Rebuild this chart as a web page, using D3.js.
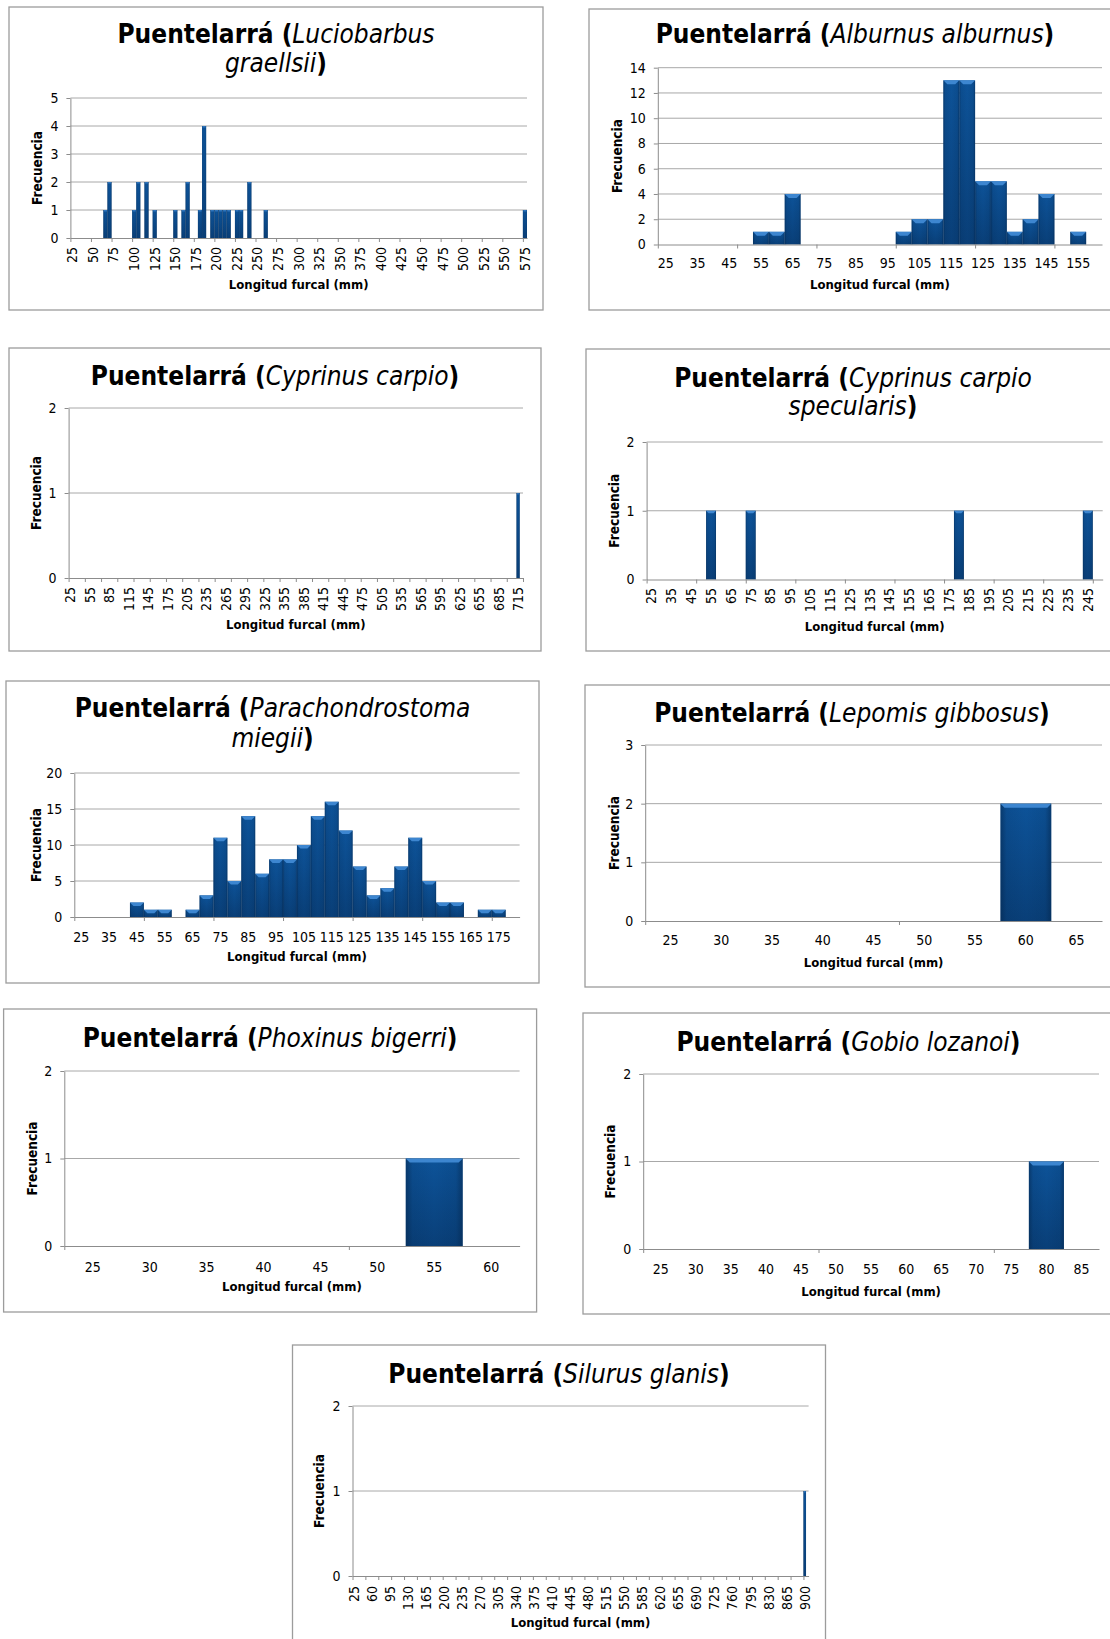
<!DOCTYPE html>
<html>
<head>
<meta charset="utf-8">
<script src="https://cdn.jsdelivr.net/npm/d3@7"></script>
<style>
  body { margin: 0; background: #fff; }
  svg { display: block; font-family: "DejaVu Sans Condensed", "DejaVu Sans", sans-serif; }
  .box { fill: #fff; stroke: #9c9c9c; stroke-width: 1.3; }
  .title { font-size: 26px; fill: #000; }
  .title .sp { font-style: oblique; font-weight: normal; }
  .title .nm { font-weight: bold; }
  .grid { stroke: #a8a8a8; stroke-width: 1; }
  .axis path, .axis line { stroke: #8c8c8c; stroke-width: 1; }
  .axis text { font-size: 14px; fill: #000; font-family: "DejaVu Sans Condensed", "DejaVu Sans", sans-serif; }
  .axis-label { font-size: 13px; font-weight: bold; fill: #000; text-anchor: middle; }
  .axis-label.yl { font-size: 13.5px; }
</style>
</head>
<body>
<script>
const width = 1110, height = 1639;
const binStep = 5;

// Luciobarbus graellsii
const graellsiiRange = [25, 575];
const graellsiiLengths = [65, 70, 100, 105, 115, 125, 150, 160, 165, 180, 185, 195, 200, 205, 210, 215, 225, 230, 240, 260, 575];
const graellsiiCounts  = [1, 2, 1, 2, 2, 1, 1, 1, 2, 1, 4, 1, 1, 1, 1, 1, 1, 1, 2, 1, 1];
const graellsiiYTicks = [0, 1, 2, 3, 4, 5];

// Alburnus alburnus
const alburnusRange = [25, 160];
const alburnusLengths = [55, 60, 65, 100, 105, 110, 115, 120, 125, 130, 135, 140, 145, 155];
const alburnusCounts  = [1, 1, 4, 1, 2, 2, 13, 13, 5, 5, 1, 2, 4, 1];
const alburnusYTicks = [0, 2, 4, 6, 8, 10, 12, 14];

// Cyprinus carpio
const carpioRange = [25, 720];
const carpioLengths = [715];
const carpioCounts  = [1];
const carpioYTicks = [0, 1, 2];

// Cyprinus carpio specularis
const specularisRange = [25, 250];
const specularisLengths = [55, 75, 180, 245];
const specularisCounts  = [1, 1, 1, 1];
const specularisYTicks = [0, 1, 2];

// Parachondrostoma miegii
const miegiiRange = [25, 180];
const miegiiLengths = [45, 50, 55, 65, 70, 75, 80, 85, 90, 95, 100, 105, 110, 115, 120, 125, 130, 135, 140, 145, 150, 155, 160, 170, 175];
const miegiiCounts  = [2, 1, 1, 1, 3, 11, 5, 14, 6, 8, 8, 10, 14, 16, 12, 7, 3, 4, 7, 11, 5, 2, 2, 1, 1];
const miegiiYTicks = [0, 5, 10, 15, 20];

// Lepomis gibbosus
const gibbosusRange = [25, 65];
const gibbosusLengths = [60];
const gibbosusCounts  = [2];
const gibbosusYTicks = [0, 1, 2, 3];

// Phoxinus bigerri
const bigerriRange = [25, 60];
const bigerriLengths = [55];
const bigerriCounts  = [1];
const bigerriYTicks = [0, 1, 2];

// Gobio lozanoi
const lozanoiRange = [25, 85];
const lozanoiLengths = [80];
const lozanoiCounts  = [1];
const lozanoiYTicks = [0, 1, 2];

// Silurus glanis
const glanisRange = [25, 905];
const glanisLengths = [900];
const glanisCounts  = [1];
const glanisYTicks = [0, 1, 2];

const charts = [
  {title: [[['Puentelarrá (', 0], ['Luciobarbus', 1]], [['graellsii', 1], [')', 0]]],
   range: graellsiiRange, lengths: graellsiiLengths, counts: graellsiiCounts, yTicks: graellsiiYTicks,
   box: [9, 7, 534, 303], plot: {l: 70.4, r: 527, t: 98, b: 238}, titleY: [43, 72],
   rotate: true, labelEvery: 5, labelY: 247, xTitleY: 289, yTitleX: 37},
  {title: [[['Puentelarrá (', 0], ['Alburnus alburnus', 1], [')', 0]]],
   range: alburnusRange, lengths: alburnusLengths, counts: alburnusCounts, yTicks: alburnusYTicks,
   box: [589, 9, 532, 301], plot: {l: 657.8, r: 1102, t: 67.7, b: 244.5}, titleY: [43],
   rotate: false, labelEvery: 2, labelY: 263, xTitleY: 289, yTitleX: 617},
  {title: [[['Puentelarrá (', 0], ['Cyprinus carpio', 1], [')', 0]]],
   range: carpioRange, lengths: carpioLengths, counts: carpioCounts, yTicks: carpioYTicks,
   box: [9, 348, 532, 303], plot: {l: 68.6, r: 523, t: 408, b: 578}, titleY: [385],
   rotate: true, labelEvery: 6, labelY: 587, xTitleY: 629, yTitleX: 36},
  {title: [[['Puentelarrá (', 0], ['Cyprinus carpio', 1]], [['specularis', 1], [')', 0]]],
   range: specularisRange, lengths: specularisLengths, counts: specularisCounts, yTicks: specularisYTicks,
   box: [586, 349, 534, 302], plot: {l: 646.6, r: 1102.7, t: 442, b: 579.5}, titleY: [387, 415],
   rotate: true, labelEvery: 2, labelY: 588, xTitleY: 631, yTitleX: 614},
  {title: [[['Puentelarrá (', 0], ['Parachondrostoma', 1]], [['miegii', 1], [')', 0]]],
   range: miegiiRange, lengths: miegiiLengths, counts: miegiiCounts, yTicks: miegiiYTicks,
   box: [6, 681, 533, 302], plot: {l: 74.3, r: 519.6, t: 773, b: 917}, titleY: [717, 747],
   rotate: false, labelEvery: 2, labelY: 937, xTitleY: 961, yTitleX: 36},
  {title: [[['Puentelarrá (', 0], ['Lepomis gibbosus', 1], [')', 0]]],
   range: gibbosusRange, lengths: gibbosusLengths, counts: gibbosusCounts, yTicks: gibbosusYTicks,
   box: [585, 685, 534, 302], plot: {l: 645.2, r: 1102, t: 745, b: 921}, titleY: [722],
   rotate: false, labelEvery: 1, labelY: 940, xTitleY: 967, yTitleX: 614},
  {title: [[['Puentelarrá (', 0], ['Phoxinus bigerri', 1], [')', 0]]],
   range: bigerriRange, lengths: bigerriLengths, counts: bigerriCounts, yTicks: bigerriYTicks,
   box: [3.6, 1009, 533, 303], plot: {l: 64.3, r: 519.6, t: 1071, b: 1246}, titleY: [1047],
   rotate: false, labelEvery: 1, labelY: 1267, xTitleY: 1291, yTitleX: 32},
  {title: [[['Puentelarrá (', 0], ['Gobio lozanoi', 1], [')', 0]]],
   range: lozanoiRange, lengths: lozanoiLengths, counts: lozanoiCounts, yTicks: lozanoiYTicks,
   box: [583, 1013, 531, 301], plot: {l: 643.2, r: 1099, t: 1074, b: 1249}, titleY: [1051],
   rotate: false, labelEvery: 1, labelY: 1269, xTitleY: 1296, yTitleX: 610},
  {title: [[['Puentelarrá (', 0], ['Silurus glanis', 1], [')', 0]]],
   range: glanisRange, lengths: glanisLengths, counts: glanisCounts, yTicks: glanisYTicks,
   box: [292.5, 1345, 533, 320], plot: {l: 352.5, r: 808.6, t: 1406, b: 1576}, titleY: [1383],
   rotate: true, labelEvery: 7, labelY: 1586, xTitleY: 1627, yTitleX: 319}
];

function addGradients(svg) {
  const defs = svg.append('defs');
  const body = defs.append('linearGradient').attr('id', 'barBody')
      .attr('x1', 0).attr('y1', 0).attr('x2', 0).attr('y2', 1);
  body.append('stop').attr('offset', '0%').attr('stop-color', '#0d5399');
  body.append('stop').attr('offset', '100%').attr('stop-color', '#093f78');
  const sides = defs.append('linearGradient').attr('id', 'barSides')
      .attr('x1', 0).attr('y1', 0).attr('x2', 1).attr('y2', 0);
  sides.append('stop').attr('offset', '0%').attr('stop-color', '#04254a').attr('stop-opacity', 0.55);
  sides.append('stop').attr('offset', '12%').attr('stop-color', '#04254a').attr('stop-opacity', 0.12);
  sides.append('stop').attr('offset', '50%').attr('stop-color', '#04254a').attr('stop-opacity', 0);
  sides.append('stop').attr('offset', '88%').attr('stop-color', '#04254a').attr('stop-opacity', 0.12);
  sides.append('stop').attr('offset', '100%').attr('stop-color', '#04254a').attr('stop-opacity', 0.55);
}

function drawBox(svg, c) {
  svg.append('rect').attr('class', 'box')
    .attr('x', c.box[0]).attr('y', c.box[1])
    .attr('width', c.box[2]).attr('height', c.box[3]);
}

function drawTitle(svg, c) {
  const cx = c.box[0] + c.box[2] / 2;
  c.title.forEach(function(line, i) {
    const t = svg.append('text').attr('class', 'title')
      .attr('x', cx).attr('y', c.titleY[i])
      .attr('text-anchor', 'middle');
    line.forEach(function(seg) {
      t.append('tspan').attr('class', seg[1] ? 'sp' : 'nm').text(seg[0]);
    });
  });
}

function drawChart(svg, c) {
  const cats = d3.range(c.range[0], c.range[1] + 1, binStep);
  const p = c.plot;
  const x = d3.scaleBand().domain(cats).range([p.l, p.r]).padding(0);
  const xIdx = d3.scaleLinear().domain([0, cats.length]).range([p.l, p.r]);
  const yMax = c.yTicks[c.yTicks.length - 1];
  const y = d3.scaleLinear().domain([0, yMax]).range([p.b, p.t]);

  drawBox(svg, c);
  drawTitle(svg, c);

  // gridlines
  svg.append('g').selectAll('line')
    .data(c.yTicks.filter(d => d > 0))
    .enter().append('line')
    .attr('class', 'grid')
    .attr('x1', p.l).attr('x2', p.r)
    .attr('y1', d => y(d)).attr('y2', d => y(d));

  // bars
  const bars = c.lengths.map((len, i) => ({len: len, n: c.counts[i]}));
  const g = svg.append('g');
  bars.forEach(function(d) {
    const bx = x(d.len), bw = x.bandwidth(), by = y(d.n), bh = y(0) - y(d.n);
    g.append('rect').attr('x', bx).attr('y', by).attr('width', bw).attr('height', bh)
      .attr('fill', 'url(#barBody)');
    g.append('rect').attr('x', bx).attr('y', by).attr('width', bw).attr('height', bh)
      .attr('fill', 'url(#barSides)');
    const cap = Math.min(4, bw / 4);
    if (bw > 8) {
      g.append('path')
        .attr('d', 'M' + bx + ',' + by + 'H' + (bx + bw) + 'L' + (bx + bw - cap) + ',' + (by + cap) +
                   'H' + (bx + cap) + 'Z')
        .attr('fill', '#3d86d0');
    } else {
      g.append('rect').attr('x', bx + 0.5).attr('y', by).attr('width', bw - 1).attr('height', 1.5)
        .attr('fill', '#2f74bb');
    }
  });

  // y axis
  svg.append('g').attr('class', 'axis')
    .attr('transform', 'translate(' + p.l + ',0)')
    .call(d3.axisLeft(y).tickValues(c.yTicks).tickSize(4).tickSizeOuter(0).tickPadding(8).tickFormat(d3.format('d')));

  // x axis: tick marks every 5 bins
  svg.append('g').attr('class', 'axis')
    .attr('transform', 'translate(0,' + p.b + ')')
    .call(d3.axisBottom(xIdx).tickValues(d3.range(0, cats.length + 1, 5)).tickSize(4).tickSizeOuter(0).tickFormat(''));

  // x labels
  const labelCats = cats.filter((d, i) => i % c.labelEvery === 0);
  const lab = svg.append('g').attr('class', 'axis');
  if (c.rotate) {
    lab.selectAll('text').data(labelCats).enter().append('text')
      .attr('transform', d => 'translate(' + (x(d) + x.bandwidth() / 2) + ',' + c.labelY + ') rotate(-90)')
      .attr('text-anchor', 'end')
      .attr('dy', '0.35em')
      .text(d => d);
  } else {
    lab.selectAll('text').data(labelCats).enter().append('text')
      .attr('x', d => x(d) + x.bandwidth() / 2)
      .attr('y', c.labelY)
      .attr('text-anchor', 'middle')
      .attr('dy', '0.35em')
      .text(d => d);
  }

  // axis titles
  svg.append('text').attr('class', 'axis-label')
    .attr('x', (p.l + p.r) / 2).attr('y', c.xTitleY)
    .text('Longitud furcal (mm)');
  const cy = (p.t + p.b) / 2;
  svg.append('text').attr('class', 'axis-label yl')
    .attr('transform', 'translate(' + c.yTitleX + ',' + cy + ') rotate(-90)')
    .attr('dy', '0.35em')
    .text('Frecuencia');
}

const svg = d3.select('body').append('svg')
  .attr('width', width).attr('height', height);
addGradients(svg);
charts.forEach(c => drawChart(svg, c));
</script>
</body>
</html>
